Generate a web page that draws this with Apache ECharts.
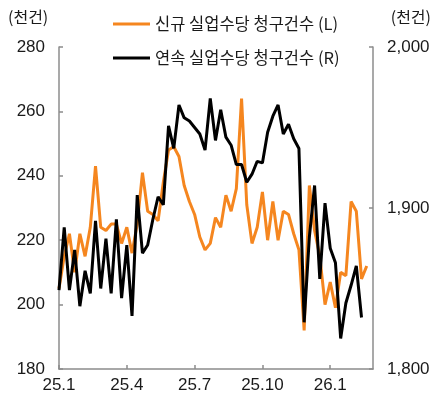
<!DOCTYPE html>
<html>
<head>
<meta charset="utf-8">
<title>실업수당 청구건수</title>
<script src="https://cdn.jsdelivr.net/npm/echarts@6/dist/echarts.min.js"></script>
<style>
  html, body { margin: 0; padding: 0; background: #fff; }
  #main { width: 436px; height: 400px; }
</style>
</head>
<body>
<div id="main"></div>
<script>
// 주간 데이터, 25.1 첫째 주부터 (천건)
var weekLabels = ["25.1", "25.4", "25.7", "25.10", "26.1"]; // 13주 간격
var initialClaims = [
  205, 215, 222, 210, 222, 215, 224, 243, 224, 223,
  225, 225, 219, 224, 216, 225, 241, 229, 228, 226,
  238, 248, 249, 246, 237, 232, 228, 221, 217, 219,
  227, 224, 234, 229, 236, 264, 231, 219, 224, 235,
  220, 232, 220, 229, 228, 222, 217, 192, 237, 223,
  215, 200, 207, 199, 210, 209, 232, 229, 208, 212
];
var continuingClaims = [
  1849, 1888, 1849, 1874, 1839, 1861, 1847, 1892, 1850, 1881,
  1847, 1893, 1844, 1877, 1833, 1908, 1872, 1877, 1893, 1907,
  1902, 1951, 1937, 1964, 1956, 1954, 1950, 1946, 1936, 1968,
  1942, 1961, 1944, 1939, 1927, 1927, 1916, 1921, 1929, 1928,
  1947, 1957, 1964, 1946, 1952, 1943, 1937, 1829, 1882, 1914,
  1856, 1903, 1875, 1866, 1819, 1841, 1852, 1864, 1832
];
var leftTicks = [180, 280, 20];
var rightTicks = [1800, 2000, 100];

var numFont = "'Liberation Sans', 'Noto Sans CJK KR', sans-serif";
var krFont = "'Noto Sans CJK KR', sans-serif";
var axisColor = "#8c8c8c";

function toPairs(arr) {
  var out = [];
  for (var i = 0; i < arr.length; i++) {
    out.push([i, arr[i]]);
  }
  return out;
}

var chart = echarts.init(document.getElementById("main"));

var yAxisBase = function(range, pos, fmt) {
  return {
    type: "value",
    position: pos,
    min: range[0],
    max: range[1],
    interval: range[2],
    splitLine: { show: false },
    axisLine: { show: true, lineStyle: { color: axisColor, width: 1.5 } },
    axisTick: { show: true, inside: true, length: 4, lineStyle: { color: axisColor, width: 1.5 } },
    axisLabel: {
      margin: 14,
      color: "#1a1a1a",
      fontFamily: numFont,
      fontSize: 17,
      formatter: fmt
    }
  };
};

var option = {
  animation: false,
  backgroundColor: "#fff",
  textStyle: { fontFamily: krFont },
  grid: { left: 59, right: 63, top: 47, bottom: 31 },
  graphic: [
    { type: "text", left: 8, top: 9, style: { text: "(천건)", font: "16px " + krFont, fill: "#1a1a1a" } },
    { type: "text", right: 5, top: 9, style: { text: "(천건)", font: "16px " + krFont, fill: "#1a1a1a" } }
  ],
  legend: {
    orient: "vertical",
    left: 108,
    top: 9,
    itemGap: 14,
    icon: "rect",
    itemWidth: 37,
    itemHeight: 3,
    textStyle: { fontFamily: krFont, fontSize: 16.5, color: "#1a1a1a", lineHeight: 20 },
    data: ["신규 실업수당 청구건수 (L)", "연속 실업수당 청구건수 (R)"]
  },
  xAxis: {
    type: "value",
    min: 0,
    max: 60.2,
    interval: 13,
    splitLine: { show: false },
    axisLine: { lineStyle: { color: axisColor, width: 1.5 } },
    axisTick: { show: true, inside: true, length: 4, lineStyle: { color: axisColor, width: 1.5 } },
    axisLabel: {
      margin: 8,
      color: "#1a1a1a",
      fontFamily: numFont,
      fontSize: 17,
      showMaxLabel: false,
      formatter: function(v) {
        if (v % 13 === 0) return weekLabels[v / 13] || "";
        return "";
      }
    }
  },
  yAxis: [
    yAxisBase(leftTicks, "left", function(v) { return String(v); }),
    yAxisBase(rightTicks, "right", function(v) { return v.toLocaleString("en-US"); })
  ],
  series: [
    {
      name: "신규 실업수당 청구건수 (L)",
      type: "line",
      yAxisIndex: 0,
      symbol: "none",
      color: "#F5861F",
      lineStyle: { width: 3, color: "#F5861F" },
      data: toPairs(initialClaims)
    },
    {
      name: "연속 실업수당 청구건수 (R)",
      type: "line",
      yAxisIndex: 1,
      symbol: "none",
      color: "#000",
      lineStyle: { width: 3, color: "#000" },
      data: toPairs(continuingClaims)
    }
  ]
};
chart.setOption(option);
</script>
</body>
</html>
